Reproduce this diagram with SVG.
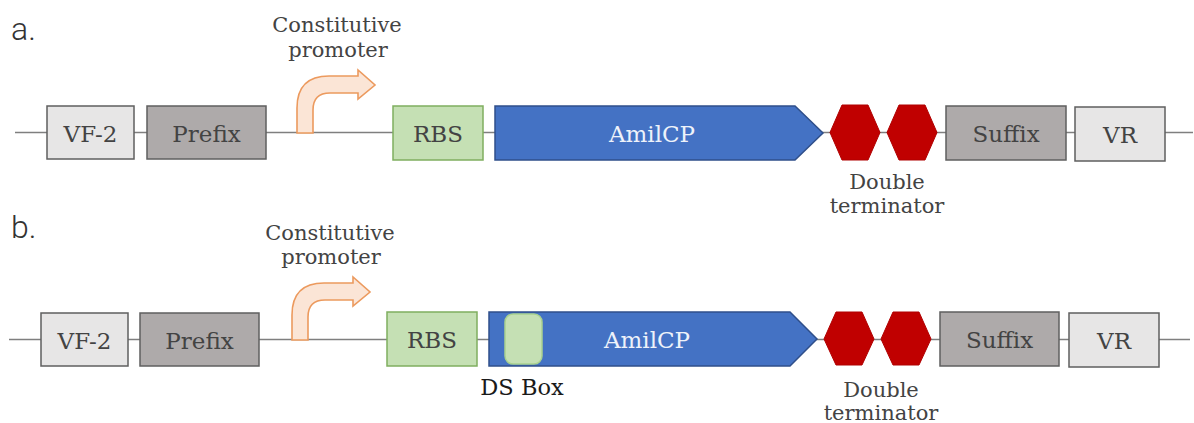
<svg xmlns="http://www.w3.org/2000/svg" width="1194" height="423" viewBox="0 0 1194 423">
<style>
.bb{stroke:#7f7f7f;stroke-width:1.5;fill:none}
.t{font-family:"DejaVu Serif","Liberation Serif",serif;fill:#434343;text-anchor:middle}
.lab{font-size:23px}
.sm{font-size:21px}
.light{fill:#e7e6e6;stroke:#5f5f5f;stroke-width:1.5}
.dark{fill:#aeaaaa;stroke:#5f5f5f;stroke-width:1.5}
.rbs{fill:#c5e0b4;stroke:#7fae5f;stroke-width:1.5}
.cds{fill:#4472c4;stroke:#2f4f8a;stroke-width:1.5}
.term{fill:#c00000;stroke:#b00000;stroke-width:1}
.prom{fill:#fbe5d6;stroke:#ec9a5e;stroke-width:1.6}
.ds{fill:#c5e0b4;stroke:#a9d18e;stroke-width:1.5}
.pl{font-family:Roboto,"Liberation Sans",sans-serif;font-size:32px;font-weight:300;fill:#333}
</style>
<rect width="1194" height="423" fill="#ffffff"/>
<g id="connectors">
<line class="bb" x1="15" y1="132.5" x2="1193" y2="132.5"/>
<line class="bb" x1="9" y1="339.5" x2="1190" y2="339.5"/>
</g>
<text id="label-a" class="pl" x="11" y="40">a.</text>
<text id="label-b" class="pl" x="11" y="238">b.</text>
<g id="row-a">
<g id="a-vf2"><rect class="light" x="47" y="106" width="87" height="53"/><text class="t lab" x="90.5" y="142">VF-2</text></g>
<g id="a-prefix"><rect class="dark" x="147" y="106" width="119" height="53"/><text class="t lab" x="206.5" y="142">Prefix</text></g>
<g id="a-promoter"><path class="prom" d="M297,133 L297,108 Q297,76 329,76 L358,76 L358,70 L375,85 L358,99 L358,93 L330,93 Q313,93 313,110 L313,133 Z"/>
<text class="t sm" x="337" y="32">Constitutive</text><text class="t sm" x="338" y="57">promoter</text></g>
<g id="a-rbs"><rect class="rbs" x="393" y="106" width="90" height="54"/><text class="t lab" x="438" y="142">RBS</text></g>
<g id="a-amilcp"><path class="cds" d="M495,106 L795,106 L823,133 L795,160 L495,160 Z"/><text class="t lab" x="652" y="142" style="fill:#eef2fa">AmilCP</text></g>
<g id="a-terminator"><polygon class="term" points="830,132.5 842,105 868,105 880,132.5 868,160 842,160"/><polygon class="term" points="887,132.5 899,105 925,105 937,132.5 925,160 899,160"/>
<text class="t sm" x="887" y="189">Double</text><text class="t sm" x="887" y="213">terminator</text></g>
<g id="a-suffix"><rect class="dark" x="946" y="106" width="120" height="54"/><text class="t lab" x="1006" y="142">Suffix</text></g>
<g id="a-vr"><rect class="light" x="1075" y="107" width="90" height="54"/><text class="t lab" x="1120" y="143">VR</text></g>
</g>
<g id="row-b" transform="translate(-6,207)">
<g id="b-vf2"><rect class="light" x="47" y="106" width="87" height="53"/><text class="t lab" x="90.5" y="142">VF-2</text></g>
<g id="b-prefix"><rect class="dark" x="146" y="106" width="119" height="53"/><text class="t lab" x="205.5" y="142">Prefix</text></g>
<g id="b-promoter"><path class="prom" d="M298,133 L298,108 Q298,76 330,76 L359,76 L359,70 L376,85 L359,99 L359,93 L331,93 Q314,93 314,110 L314,133 Z"/>
<text class="t sm" x="336" y="33">Constitutive</text><text class="t sm" x="337" y="57">promoter</text></g>
<g id="b-rbs"><rect class="rbs" x="393" y="105" width="90" height="54"/><text class="t lab" x="438" y="141">RBS</text></g>
<g id="b-amilcp"><path class="cds" d="M495,105 L796,105 L823,132 L796,159 L495,159 Z"/><text class="t lab" x="653" y="141" style="fill:#eef2fa">AmilCP</text></g>
<g id="b-dsbox"><rect class="ds" x="511" y="107" width="37" height="50" rx="8"/><text class="t" x="528" y="188" style="font-size:22.5px;fill:#1a1a1a">DS Box</text></g>
<g id="b-terminator"><polygon class="term" points="830,132 842,105 868,105 880,132 868,158 842,158"/><polygon class="term" points="887,132 899,105 925,105 937,132 925,158 899,158"/>
<text class="t sm" x="887" y="190">Double</text><text class="t sm" x="887" y="213">terminator</text></g>
<g id="b-suffix"><rect class="dark" x="946" y="105" width="119" height="54"/><text class="t lab" x="1005.5" y="141">Suffix</text></g>
<g id="b-vr"><rect class="light" x="1075" y="106" width="90" height="54"/><text class="t lab" x="1120" y="142">VR</text></g>
</g>
</svg>
